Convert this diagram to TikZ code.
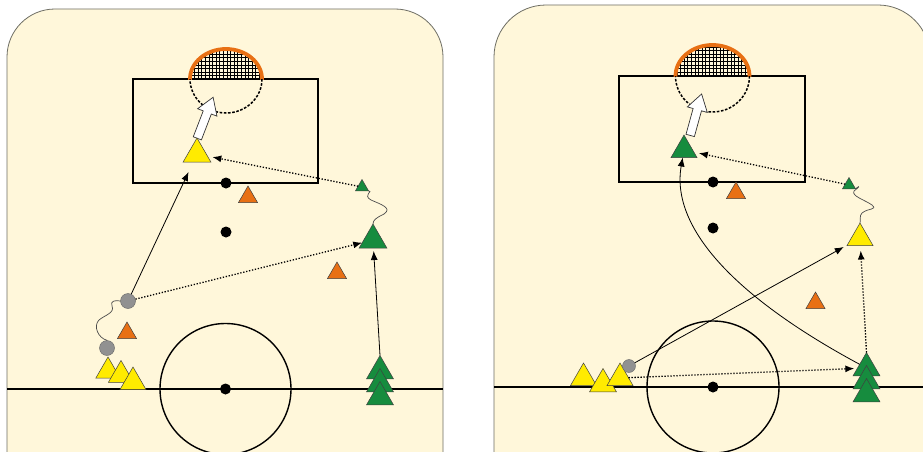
\documentclass[tikz,border=0pt]{standalone}
\usetikzlibrary{shapes.geometric,shapes.arrows,arrows.meta}
\definecolor{cream}{RGB}{255,247,218}
\definecolor{tyel}{RGB}{255,235,0}
\definecolor{tgrn}{RGB}{22,140,62}
\definecolor{tora}{RGB}{232,112,20}
\definecolor{tgry}{RGB}{145,145,145}
\definecolor{paneledge}{RGB}{110,110,100}
\tikzset{
  panel/.style={draw=paneledge, line width=0.8pt, fill=cream},
  fieldline/.style={line width=2pt, black},
  centrecircle/.style={line width=1.4pt, black},
  boxline/.style={line width=1.8pt, black},
  netline/.style={line width=0.5pt, black},
  netrim/.style={line width=3.8pt, tora},
  dashedarc/.style={line width=1.5pt, dash pattern=on 2.6pt off 1.6pt},
  tri/.style={regular polygon, regular polygon sides=3, inner sep=0pt, outer sep=0pt, draw=black!75, line width=0.5pt},
  ytri/.style={tri, fill=tyel, minimum size=#1},
  gtri/.style={tri, fill=tgrn, minimum size=#1},
  otri/.style={tri, fill=tora, minimum size=#1},
  ball/.style={circle, fill=tgry, draw=tgry!70!black, line width=0.4pt, inner sep=0pt, minimum size=#1},
  blackdot/.style={circle, fill=black, inner sep=0pt, minimum size=11pt},
  hollow/.style={single arrow, draw=black!80, fill=white, line width=0.7pt, inner xsep=0pt, inner ysep=4pt,
     single arrow head extend=6pt, single arrow tip angle=65, single arrow head indent=0pt, minimum height=#1},
  passline/.style={line width=1.3pt, dash pattern=on 1.3pt off 1.7pt, -{Latex[length=9pt,width=7pt]}},
  runline/.style={line width=0.8pt, -{Latex[length=9pt,width=7pt]}},
  wavy/.style={line width=0.7pt, black!70},
}
\begin{document}
\begin{tikzpicture}[x=1pt,y=-1pt]
\useasboundingbox (0,0) rectangle (923,452);
\clip (0,0) rectangle (923,452);
\fill[white] (0,0) rectangle (923,452);
% panels
\draw[panel, rounded corners=48pt] (7,9) rectangle (443,520);
\draw[panel, rounded corners=52pt] (494,5) rectangle (930,520);

% ===== LEFT FIELD =====
\draw[fieldline] (7,389) -- (443,389);
\draw[centrecircle] (225.5,389) circle[radius=65.5];
\draw[boxline] (133,79) rectangle (318,183);
\begin{scope}
  \clip (150,79) rectangle (300,30);
  \clip (226,79) ellipse[x radius=36, y radius=30];
  \draw[netline, step=3.6pt] (180,30) grid (272,80);
\end{scope}
\begin{scope}
  \clip (150,79) rectangle (300,30);
  \draw[netrim] (226,79) ellipse[x radius=36, y radius=30];
\end{scope}
\begin{scope}
  \clip (150,79) rectangle (300,130);
  \draw[dashedarc] (226,79) ellipse[x radius=36, y radius=34];
\end{scope}

\node[hollow=44pt, rotate=69] (HA1) at (204,121) {};
\node[ytri=32pt] (Y1) at (197,154) {};
\node[gtri=15pt] (SG1) at (362,187) {};
\node[gtri=32pt] (G1) at (373,240) {};
\node[otri=22pt] (O1) at (248,197) {};
\node[otri=22pt] (O2) at (337,273) {};
\node[otri=22pt] (O3) at (127,333) {};
\node[blackdot] (D1) at (226,183) {};
\node[blackdot] (D2) at (226,232) {};
\node[blackdot] (D3) at (225.5,389) {};
\node[ytri=28pt] (Y2) at (108,371) {};
\node[ytri=29pt] (Y3) at (121,375) {};
\node[ytri=30pt] (Y4) at (133,382) {};
\node[ball=15pt] (B1) at (128,301) {};
\node[ball=15pt] (B2) at (107,348) {};
\node[gtri=31pt] (G2) at (380,371) {};
\node[gtri=31pt] (G3) at (380,384) {};
\node[gtri=31pt] (G4) at (380,397) {};

\draw[passline, shorten >=5pt] (SG1) -- (Y1);
\draw[passline] (B1) -- (G1);
\draw[runline, shorten >=11pt] (B1) -- (Y1);
\draw[runline, shorten >=3pt] (G2.corner 1) -- (G1);
\draw[wavy] (SG1.corner 3) .. controls (374,191) and (362,195) .. (371,200)
   .. controls (380,204) and (393,208) .. (384,214)
   .. controls (376,218) and (373,220) .. (G1.corner 1);
\draw[wavy] (B2.north) .. controls (98,338) and (93,326) .. (99,320)
   .. controls (105,315) and (115,313) .. (112,306)
   .. controls (110,301) and (115,300) .. (B1.west);

% ===== RIGHT FIELD =====
\draw[fieldline] (494,387) -- (930,387);
\draw[centrecircle] (713,387) circle[radius=66];
\draw[boxline] (619,76) rectangle (805,182);
\begin{scope}
  \clip (600,76) rectangle (800,30);
  \clip (712.5,76) ellipse[x radius=37, y radius=31];
  \draw[netline, step=3.6pt] (670,30) grid (760,80);
\end{scope}
\begin{scope}
  \clip (600,76) rectangle (800,30);
  \draw[netrim] (712.5,76) ellipse[x radius=37, y radius=31];
\end{scope}
\begin{scope}
  \clip (600,76) rectangle (800,130);
  \draw[dashedarc] (712.5,76) ellipse[x radius=37, y radius=36];
\end{scope}

\node[hollow=43pt, rotate=74.6] (HA2) at (695,118) {};
\node[gtri=30pt] (GB) at (684,150) {};
\node[gtri=15pt] (SG2) at (849,185) {};
\node[ytri=30pt] (Y5) at (860,238) {};
\node[otri=22pt] (O4) at (736,193) {};
\node[otri=22pt] (O5) at (815.5,303) {};
\node[blackdot] (D4) at (713,182) {};
\node[blackdot] (D5) at (713,228) {};
\node[blackdot] (D6) at (713,387) {};
\node[ytri=30pt] (Y6) at (583.5,378) {};
\node[ytri=31pt] (Y7) at (603,384) {};
\node[ytri=30pt] (Y8) at (620,378) {};
\node[ball=13pt] (B3) at (629,366) {};
\node[gtri=31pt] (G5) at (866.5,368) {};
\node[gtri=31pt] (G6) at (866.5,381) {};
\node[gtri=31pt] (G7) at (866.5,394) {};

\draw[passline, shorten >=5pt] (SG2) -- (GB);
\draw[runline, shorten >=4pt] (B3) -- (Y5);
\draw[passline, shorten >=5pt] (G5.corner 1) -- (Y5);
\draw[passline, shorten >=3pt] (Y8) -- (G5);
\draw[runline] (G5) .. controls (740,300) and (670,230) .. (GB);
\draw[wavy] (SG2.corner 3) .. controls (862,184) and (858,188) .. (854,191)
   .. controls (851,196) and (865,200) .. (872,205)
   .. controls (878,210) and (868,208) .. (862,213)
   .. controls (859,216) and (861,220) .. (Y5.corner 1);
\end{tikzpicture}
\end{document}
